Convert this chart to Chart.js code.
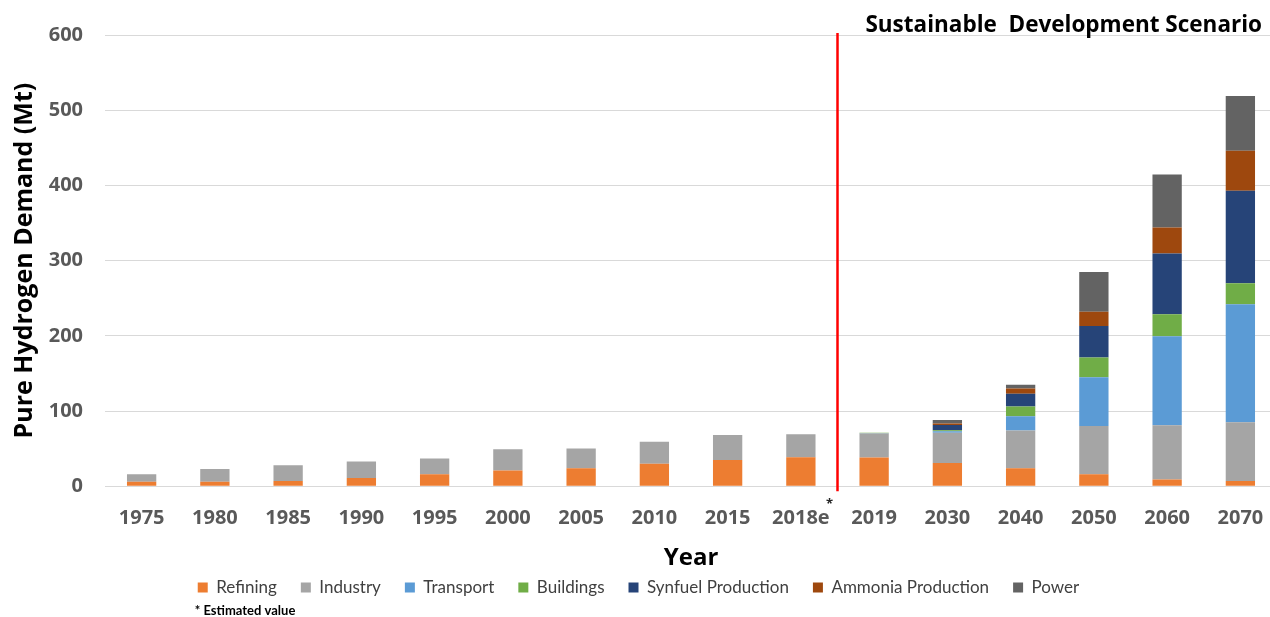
<!DOCTYPE html>
<html>
<head>
<meta charset="utf-8">
<title>Pure Hydrogen Demand</title>
<script src="https://cdn.jsdelivr.net/npm/chart.js@4/dist/chart.umd.min.js"></script>
<style>
  html, body { margin: 0; padding: 0; background: #fff; overflow: hidden; }
  #wrap { width: 1277px; height: 617px; position: relative; }
</style>
</head>
<body>
<div id="wrap"><canvas id="mycanvas"></canvas></div>
<script>
// years on the category axis ("2018e" is an estimate)
var years = ['1975', '1980', '1985', '1990', '1995', '2000', '2005', '2010', '2015', '2018e',
             '2019', '2030', '2040', '2050', '2060', '2070'];

// demand by end use, Mt H2
var refining  = [6, 6, 7, 11, 16, 21, 24, 30, 35, 38.5, 38, 31, 24, 16, 9, 7];
var industry  = [10, 17, 21, 22, 21, 28, 26, 29, 33, 30.5, 32, 40, 50, 64, 72, 78];
var transport = [0, 0, 0, 0, 0, 0, 0, 0, 0, 0, 0.3, 2, 19, 65, 118.5, 157];
var buildings = [0, 0, 0, 0, 0, 0, 0, 0, 0, 0, 0.8, 1.5, 13, 26, 29, 28];
var synfuel   = [0, 0, 0, 0, 0, 0, 0, 0, 0, 0, 0, 7, 17, 42, 81, 123];
var ammonia   = [0, 0, 0, 0, 0, 0, 0, 0, 0, 0, 0, 2, 7, 19, 34.5, 53];
var power     = [0, 0, 0, 0, 0, 0, 0, 0, 0, 0, 0, 4.5, 5, 53, 70.5, 73];

var yTicks = [0, 100, 200, 300, 400, 500, 600];

var seriesNames  = ['Refining', 'Industry', 'Transport', 'Buildings', 'Synfuel Production', 'Ammonia Production', 'Power'];
var seriesData   = [refining, industry, transport, buildings, synfuel, ammonia, power];
var seriesColors = ['#ED7D31', '#A5A5A5', '#5B9BD5', '#70AD47', '#264478', '#9E480E', '#636363'];

var datasets = [];
for (var i in seriesNames) {
    datasets.push({
        label: seriesNames[i],
        data: seriesData[i],
        backgroundColor: seriesColors[i],
        borderWidth: 0,
        categoryPercentage: 1,
        barPercentage: 0.4
    });
}

// red divider between history and scenario, plus the text notes
var decor = {
    id: 'decor',
    afterDatasetsDraw: function(chart) {
        var ctx = chart.ctx;
        var area = chart.chartArea;
        var x = chart.scales.x;
        var xs = (x.getPixelForValue(9) + x.getPixelForValue(10)) / 2;

        ctx.save();
        ctx.strokeStyle = '#ff0000';
        ctx.lineWidth = 2.5;
        ctx.beginPath();
        ctx.moveTo(xs, area.top - 2);
        ctx.lineTo(xs, area.bottom + 5);
        ctx.stroke();

        ctx.fillStyle = '#262626';
        ctx.font = 'bold 13px "Open Sans"';
        ctx.textAlign = 'center';
        ctx.textBaseline = 'middle';
        ctx.fillText('*', xs - 8, area.bottom + 18);

        ctx.fillStyle = '#000';
        ctx.font = 'bold 22.5px "Open Sans"';
        ctx.textAlign = 'right';
        ctx.textBaseline = 'alphabetic';
        ctx.fillText('Sustainable  Development Scenario', 1262, 32);

        var boxes = chart.legend.legendHitBoxes;
        var fx = boxes && boxes.length ? boxes[0].left - 3 : 186;
        ctx.font = 'bold 13px Lato';
        ctx.textAlign = 'left';
        ctx.textBaseline = 'middle';
        ctx.fillText('* Estimated value', fx, 611);
        ctx.restore();
    }
};

var ctx = document.getElementById('mycanvas');

var barGraph = new Chart(ctx, {
    type: 'bar',
    data: { labels: years, datasets: datasets },
    plugins: [decor],
    options: {
        responsive: true,
        maintainAspectRatio: false,
        animation: false,
        layout: { padding: { top: 35, left: 0, right: 0, bottom: 11 } },
        plugins: {
            title: { display: false },
            tooltip: { enabled: false },
            legend: {
                position: 'bottom',
                labels: {
                    boxWidth: 10,
                    boxHeight: 10,
                    padding: 24,
                    color: '#404040',
                    font: { family: 'Lato', size: 17 }
                }
            }
        },
        scales: {
            x: {
                stacked: true,
                grid: { display: false },
                border: { display: true, color: '#d9d9d9', width: 1 },
                ticks: {
                    color: '#595959',
                    padding: 12,
                    maxRotation: 0,
                    autoSkip: false,
                    font: { family: 'Open Sans', size: 20, weight: 'bold' }
                },
                title: {
                    display: true,
                    text: 'Year',
                    color: '#000',
                    padding: { top: 2, bottom: -18 },
                    font: { family: 'Open Sans', size: 24, weight: 'bold' }
                }
            },
            y: {
                stacked: true,
                min: 0,
                max: 600,
                afterFit: function(scale) { scale.width = 105; },
                afterBuildTicks: function(scale) {
                    scale.ticks = yTicks.map(function(v) { return { value: v }; });
                },
                grid: { color: '#d9d9d9', lineWidth: 1, drawTicks: false },
                border: { display: false },
                ticks: {
                    color: '#595959',
                    padding: 22,
                    font: { family: 'Open Sans', size: 20, weight: 'bold' }
                },
                title: {
                    display: true,
                    text: 'Pure Hydrogen Demand (Mt)',
                    color: '#000',
                    padding: { top: 10, bottom: 0 },
                    font: { family: 'Open Sans', size: 25, weight: 'bold' }
                }
            }
        }
    }
});
</script>
</body>
</html>
